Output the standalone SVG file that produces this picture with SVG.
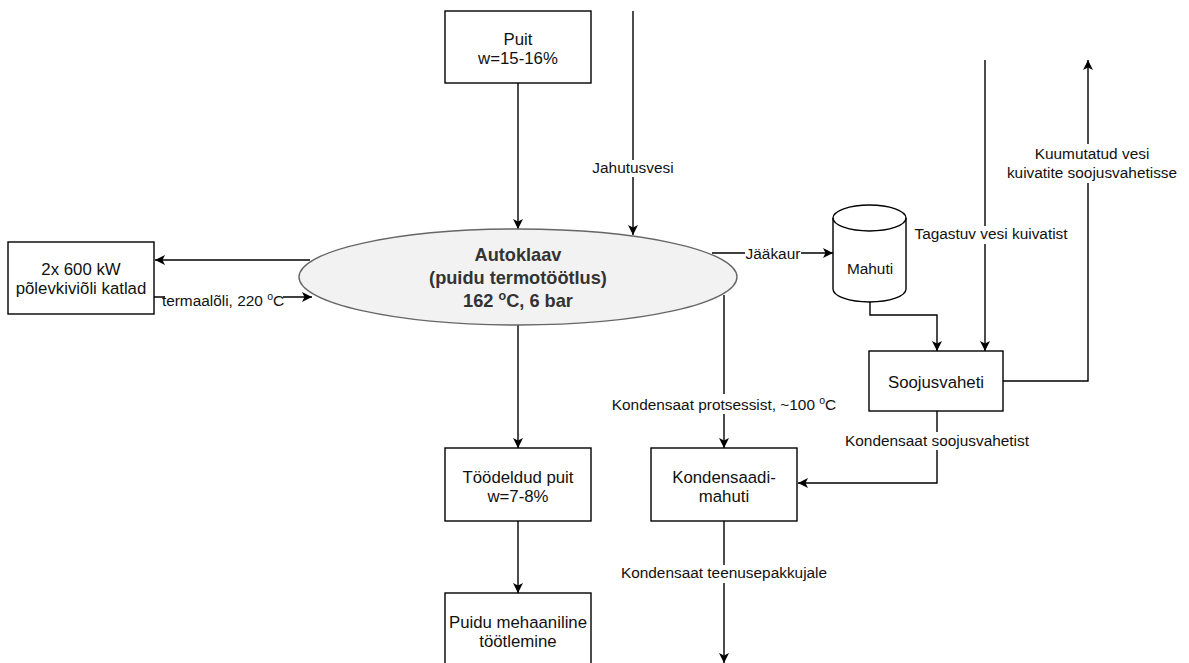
<svg xmlns="http://www.w3.org/2000/svg" width="1189" height="663" viewBox="0 0 1189 663">
<defs>
<marker id="arr" markerUnits="userSpaceOnUse" markerWidth="12" markerHeight="12" refX="10" refY="5" orient="auto" viewBox="0 0 12 10">
<path d="M0,0 L10,5 L0,10 L2.5,5 Z" fill="#000"/>
</marker>
<style>
.box{fill:#fff;stroke:#000;stroke-width:1.4}
.t{font-family:"Liberation Sans",Arial,sans-serif;font-size:16.8px;fill:#111;text-anchor:middle}
.tb{font-family:"Liberation Sans",Arial,sans-serif;font-size:18.2px;font-weight:bold;fill:#333;text-anchor:middle}
.lbl{font-family:"Liberation Sans",Arial,sans-serif;font-size:15.4px;fill:#111;text-anchor:middle}
.c{fill:none;stroke:#000;stroke-width:1.4;marker-end:url(#arr)}
.cn{fill:none;stroke:#000;stroke-width:1.4}
.bg{fill:#fff}
</style>
</defs>
<rect width="1189" height="663" fill="#fff"/>

<g id="connectors">
<path class="c" d="M518,83 V229"/>
<path class="c" d="M633,11 V235"/>
<path class="c" d="M310,260 H155"/>
<path class="c" d="M154,297 H312"/>
<path class="c" d="M712,253 H833"/>
<path class="c" d="M870,302 V315 H937 V351"/>
<path class="c" d="M985,60 V351"/>
<path class="c" d="M1003,381 H1088 V60"/>
<path class="c" d="M724,295 V448"/>
<path class="c" d="M937,411 V483 H798"/>
<path class="c" d="M518,325 V448"/>
<path class="c" d="M518,521 V593"/>
<path class="c" d="M724,521 V663"/>
</g>

<g id="labels">
<rect class="bg" x="591" y="160" width="84" height="17"/>
<text class="lbl" x="633" y="173">Jahutusvesi</text>
<rect class="bg" x="165" y="291" width="118" height="19"/>
<text class="lbl" x="223" y="306">termaalõli, 220 <tspan font-size="10.5" dy="-6">o</tspan><tspan dy="6">C</tspan></text>
<rect class="bg" x="745" y="246" width="56" height="18"/>
<text class="lbl" x="773" y="259">Jääkaur</text>
<rect class="bg" x="912" y="226" width="159" height="18"/>
<text class="lbl" x="991" y="239">Tagastuv vesi kuivatist</text>
<rect class="bg" x="1005" y="144" width="176" height="39"/>
<text class="lbl" x="1092" y="159">Kuumutatud vesi</text>
<text class="lbl" x="1092" y="178">kuivatite soojusvahetisse</text>
<rect class="bg" x="607" y="394" width="234" height="20"/>
<text class="lbl" x="724" y="410">Kondensaat protsessist, ~100 <tspan font-size="10.5" dy="-6">o</tspan><tspan dy="6">C</tspan></text>
<rect class="bg" x="842" y="432" width="191" height="18"/>
<text class="lbl" x="937" y="446">Kondensaat soojusvahetist</text>
<rect class="bg" x="619" y="565" width="211" height="18"/>
<text class="lbl" x="724" y="578">Kondensaat teenusepakkujale</text>
</g>

<g id="puit">
<rect class="box" x="445" y="11" width="146" height="72"/>
<text class="t" x="518" y="45">Puit</text>
<text class="t" x="518" y="64">w=15-16%</text>
</g>

<g id="katlad">
<rect class="box" x="8" y="242" width="146" height="72"/>
<text class="t" x="81" y="275">2x 600 kW</text>
<text class="t" x="81" y="294">põlevkiviõli katlad</text>
</g>

<g id="autoklaav">
<ellipse cx="518" cy="277" rx="219" ry="48" fill="#f2f2f2" stroke="#666" stroke-width="1.4"/>
<text class="tb" x="518" y="261">Autoklaav</text>
<text class="tb" x="518" y="284">(puidu termotöötlus)</text>
<text class="tb" x="518" y="307">162 <tspan font-size="12.5" dy="-7">o</tspan><tspan dy="7">C, 6 bar</tspan></text>
</g>

<g id="mahuti">
<path d="M833,218 A36.5,13 0 0 1 906,218 V289 A36.5,13 0 0 1 833,289 Z" fill="#fff" stroke="#000" stroke-width="1.4"/>
<path d="M833,218 A36.5,13 0 0 0 906,218" fill="none" stroke="#000" stroke-width="1.4"/>
<text class="lbl" x="870" y="274" font-size="14">Mahuti</text>
</g>

<g id="soojusvaheti">
<rect class="box" x="869" y="351" width="134" height="60"/>
<text class="t" x="936" y="388">Soojusvaheti</text>
</g>

<g id="tootletud">
<rect class="box" x="445" y="448" width="146" height="73"/>
<text class="t" x="518" y="483">Töödeldud puit</text>
<text class="t" x="518" y="502">w=7-8%</text>
</g>

<g id="kondensaadimahuti">
<rect class="box" x="651" y="448" width="146" height="73"/>
<text class="t" x="724" y="483">Kondensaadi-</text>
<text class="t" x="724" y="502">mahuti</text>
</g>

<g id="mehaaniline">
<rect class="box" x="445" y="593" width="146" height="80"/>
<text class="t" x="518" y="628">Puidu mehaaniline</text>
<text class="t" x="518" y="647">töötlemine</text>
</g>
</svg>
